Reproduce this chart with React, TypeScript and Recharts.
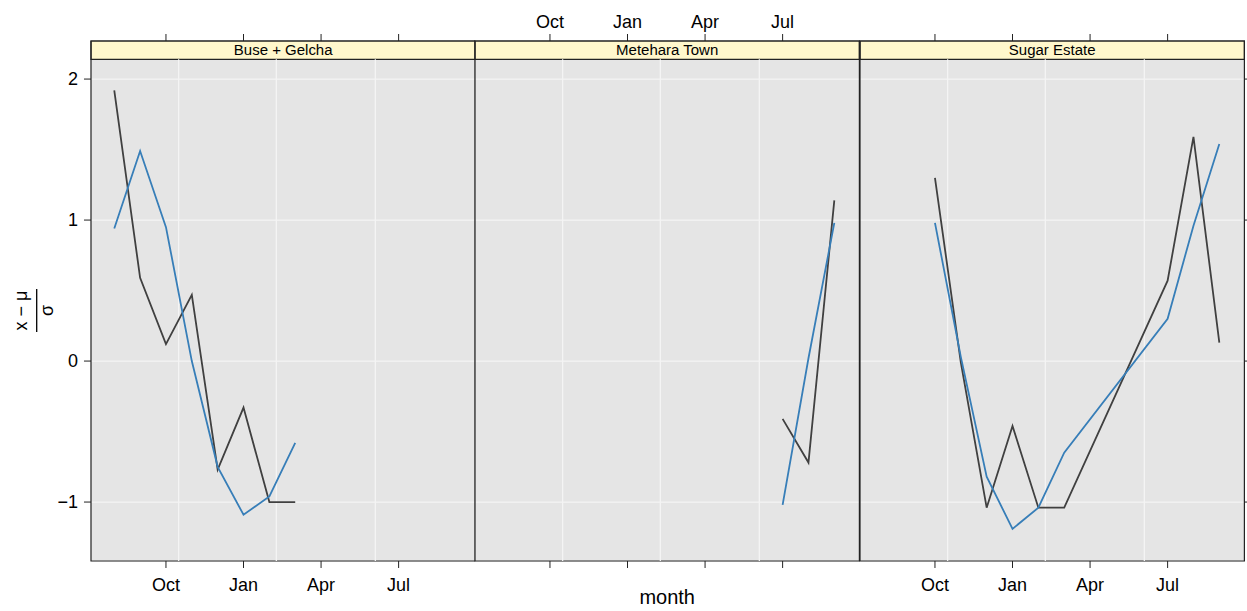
import {
  LineChart,
  Line,
  XAxis,
  YAxis,
  CartesianGrid,
  ReferenceArea,
  ReferenceLine,
} from "recharts";

// month index: 0 = Aug, 13 = Sep of the following year
const MONTH_IDX = [0, 1, 2, 3, 4, 5, 6, 7, 8, 9, 10, 11, 12, 13];
const MONTH_NAMES = [
  "Aug", "Sep", "Oct", "Nov", "Dec", "Jan", "Feb",
  "Mar", "Apr", "May", "Jun", "Jul", "Aug", "Sep",
];
const X_TICKS = [2, 5, 8, 11];
const Y_TICKS = [-1, 0, 1, 2];
const GRID_X = [2.49, 6.27, 10.1];

const PANEL_NAMES = ["Buse + Gelcha", "Metehara Town", "Sugar Estate"];

const BUSE_DARK = [1.92, 0.59, 0.12, 0.47, -0.77, -0.33, -1.0, -1.0, null, null, null, null, null, null];
const BUSE_BLUE = [0.94, 1.49, 0.95, 0.0, -0.75, -1.09, -0.96, -0.58, null, null, null, null, null, null];

const METEHARA_DARK = [null, null, null, null, null, null, null, null, null, null, null, -0.41, -0.72, 1.14];
const METEHARA_BLUE = [null, null, null, null, null, null, null, null, null, null, null, -1.02, 0.02, 0.98];

const SUGAR_DARK = [null, null, 1.3, -0.01, -1.04, -0.46, -1.04, -1.04, null, null, null, 0.57, 1.59, 0.13];
const SUGAR_BLUE = [null, null, 0.98, 0.03, -0.82, -1.19, -1.04, -0.65, null, null, null, 0.3, 0.96, 1.54];

const X_DOMAIN: [number, number] = [-0.9, 13.97];
const Y_MIN = -1.418;
const Y_MAX = 2.27;
const STRIP_BOTTOM = 2.14;

const PANEL_LEFT = 90.7;
const PANEL_W = 384.4;
const Y_AXIS_W = 91;
const RIGHT_W = 8;
const CHART_H = 611;

const INK = "#222222";
const DARK_LINE = "#404040";
const BLUE_LINE = "#377EB8";
const PANEL_BG = "#E5E5E5";
const GRID = "#F4F4F4";
const STRIP_BG = "#FFF7CC";

const blank = () => "";
const monthLabel = (v: number) => MONTH_NAMES[v] ?? "";

function FractionLabel() {
  return (
    <g transform="translate(36.7, 310.5) rotate(-90)">
      <text x={0} y={-10} textAnchor="middle" fontSize={18} fill="#000">
        x − μ
      </text>
      <line x1={-21.5} x2={21.5} y1={0} y2={0} stroke="#000" strokeWidth={1.3} />
      <text x={0} y={16.5} textAnchor="middle" fontSize={18} fill="#000">
        σ
      </text>
    </g>
  );
}

type PanelProps = {
  index: number;
  name: string;
  dark: (number | null)[];
  blue: (number | null)[];
};

function Panel({ index, name, dark, blue }: PanelProps) {
  const rows = MONTH_IDX.map((m, i) => ({ m, dark: dark[i], blue: blue[i] }));
  const first = index === 0;
  const middle = index === 1;
  const last = index === 2;
  const tickStyle = { fontSize: 18, fill: "#000" };

  return (
    <div
      style={{
        position: "absolute",
        top: 0,
        left: PANEL_LEFT + index * PANEL_W - Y_AXIS_W,
      }}
    >
      <LineChart
        width={Y_AXIS_W + PANEL_W + RIGHT_W}
        height={CHART_H}
        data={rows}
        margin={{ top: 0, right: 0, bottom: 0, left: 0 }}
      >
        <XAxis
          xAxisId={0}
          type="number"
          dataKey="m"
          domain={X_DOMAIN}
          allowDataOverflow
          ticks={X_TICKS}
          interval={0}
          orientation="bottom"
          height={50}
          axisLine={false}
          tickLine={{ stroke: INK }}
          tickSize={7}
          tickMargin={10}
          tick={tickStyle}
          tickFormatter={middle ? blank : monthLabel}
          label={
            middle
              ? { value: "month", position: "insideBottom", offset: 7, fontSize: 20, fill: "#000" }
              : undefined
          }
        />
        <XAxis
          xAxisId="top"
          type="number"
          dataKey="m"
          domain={X_DOMAIN}
          allowDataOverflow
          ticks={X_TICKS}
          interval={0}
          orientation="top"
          height={41}
          axisLine={false}
          tickLine={{ stroke: INK }}
          tickSize={7}
          tickMargin={6}
          tick={tickStyle}
          tickFormatter={middle ? monthLabel : blank}
        />
        <YAxis
          yAxisId={0}
          type="number"
          domain={[Y_MIN, Y_MAX]}
          allowDataOverflow
          ticks={Y_TICKS}
          interval={0}
          width={Y_AXIS_W}
          axisLine={false}
          tickLine={first ? { stroke: INK } : false}
          tickSize={7}
          tickMargin={6}
          tick={tickStyle}
          tickFormatter={first ? (v: number) => (v < 0 ? `\u2212${-v}` : `${v}`) : blank}
          label={first ? <FractionLabel /> : undefined}
        />
        <YAxis
          yAxisId="right"
          orientation="right"
          type="number"
          domain={[Y_MIN, Y_MAX]}
          allowDataOverflow
          ticks={Y_TICKS}
          interval={0}
          width={RIGHT_W}
          axisLine={false}
          tickLine={last ? { stroke: INK } : false}
          tickSize={7}
          tickFormatter={blank}
        />
        <CartesianGrid
          vertical={false}
          fill={PANEL_BG}
          stroke={GRID}
          strokeWidth={1.3}
        />
        {GRID_X.map((g) => (
          <ReferenceLine
            key={g}
            segment={[
              { x: g, y: Y_MIN },
              { x: g, y: STRIP_BOTTOM },
            ]}
            stroke={GRID}
            strokeWidth={1.3}
          />
        ))}
        <Line
          type="linear"
          dataKey="dark"
          stroke={DARK_LINE}
          strokeWidth={1.8}
          dot={false}
          connectNulls
          isAnimationActive={false}
        />
        <Line
          type="linear"
          dataKey="blue"
          stroke={BLUE_LINE}
          strokeWidth={1.8}
          dot={false}
          connectNulls
          isAnimationActive={false}
        />
        <ReferenceArea
          x1={X_DOMAIN[0]}
          x2={X_DOMAIN[1]}
          y1={STRIP_BOTTOM}
          y2={Y_MAX}
          fill={STRIP_BG}
          fillOpacity={1}
          stroke={INK}
          strokeWidth={1.2}
          label={{ value: name, position: "center", fontSize: 15, fill: "#000" }}
        />
        <ReferenceArea
          x1={X_DOMAIN[0]}
          x2={X_DOMAIN[1]}
          y1={Y_MIN}
          y2={Y_MAX}
          fill="none"
          stroke={INK}
          strokeWidth={1.2}
        />
      </LineChart>
    </div>
  );
}

export default function App() {
  return (
    <div
      style={{
        position: "absolute",
        left: 0,
        top: 0,
        width: 1247,
        height: 611,
        background: "#fff",
        fontFamily: "'Liberation Sans', Arial, Helvetica, sans-serif",
      }}
    >
      <Panel index={0} name={PANEL_NAMES[0]} dark={BUSE_DARK} blue={BUSE_BLUE} />
      <Panel index={1} name={PANEL_NAMES[1]} dark={METEHARA_DARK} blue={METEHARA_BLUE} />
      <Panel index={2} name={PANEL_NAMES[2]} dark={SUGAR_DARK} blue={SUGAR_BLUE} />
    </div>
  );
}
